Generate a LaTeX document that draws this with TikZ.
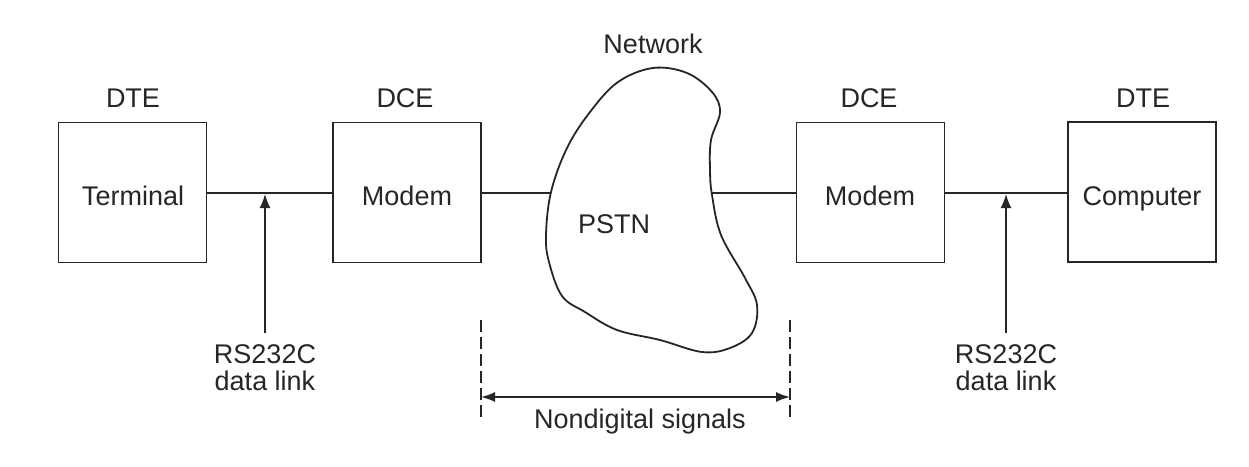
\documentclass[tikz,border=0pt]{standalone}
\usepackage{fontspec}
\setmainfont{Liberation Sans}
\usetikzlibrary{arrows.meta}
\begin{document}
\begin{tikzpicture}[x=1pt,y=-1pt,
  lbl/.style={anchor=base,inner sep=0pt,font=\fontsize{27}{30}\selectfont,text=black!85},
  unit/.style={draw=black!85,line width=1.7pt,minimum width=148pt,minimum height=140pt,inner sep=0pt},
  wire/.style={draw=black!85,line width=1.7pt},
  uparrow/.style={wire,-{Latex[length=14pt,width=11pt]}},
  dbl/.style={wire,{Latex[length=14pt,width=10pt]}-{Latex[length=14pt,width=10pt]}},
  dashline/.style={draw=black!85,line width=1.5pt,dash pattern=on 12pt off 5pt}]
\useasboundingbox[fill=white] (0,0) rectangle (1249,466);
% boxes
\node[unit] (term) at (132.5,192.5) {};
\node[unit] (mod1) at (407,192.5) {};
\node[unit] (mod2) at (870.5,192.5) {};
\node[unit] (comp) at (1142,192) {};
\node[lbl] (tterm) at (133,205) {Terminal};
\node[lbl] (tmod1) at (407,205) {Modem};
\node[lbl] (tmod2) at (870,205) {Modem};
\node[lbl] (tcomp) at (1142,205) {Computer};
\node[lbl] (dte1) at (133,107) {DTE};
\node[lbl] (dce1) at (405,107) {DCE};
\node[lbl] (dce2) at (869,107) {DCE};
\node[lbl] (dte2) at (1143,107) {DTE};
\node[lbl] (netw) at (653,53) {Network};
\node[lbl] (pstn) at (614,233) {PSTN};
% cloud
\draw[wire,line width=1.8pt] plot[smooth cycle,tension=0.6] coordinates {
 (653,68) (687,73) (712,92) (720,112) (711,140) (710,170) (712,195)
 (721,235) (745,278) (757,305) (752,333) (730,348) (702,352)
 (660,340) (617,330) (585,312) (562,296) (549,262) (546,235)
 (551,192) (567,148) (590,112) (618,82)};
\coordinate (cl) at (550.5,193);
\coordinate (cr) at (712,193);
% wires
\draw[wire] (term.east |- 0,193) -- (mod1.west |- 0,193);
\draw[wire] (mod1.east |- 0,193) -- (cl);
\draw[wire] (cr) -- (mod2.west |- 0,193);
\draw[wire] (mod2.east |- 0,193) -- (comp.west |- 0,193);
% RS232C labels and arrows
\node[lbl] (rs1) at (265,363) {RS232C};
\node[lbl] (dl1) at (265,390) {data link};
\node[lbl] (rs2) at (1006,363) {RS232C};
\node[lbl] (dl2) at (1006,390) {data link};
\coordinate (a1) at (265,194);
\coordinate (a2) at (1006,194);
\draw[uparrow] (265,333) -- (a1);
\draw[uparrow] (1006,333) -- (a2);
% nondigital signals
\coordinate (dl) at (481,320);
\coordinate (dlb) at (481,417);
\coordinate (dr) at (790,320);
\coordinate (drb) at (790,417);
\draw[dashline] (dl) -- (dlb);
\draw[dashline] (dr) -- (drb);
\draw[dbl] (481,397) -- (790,397);
\node[lbl] (nds) at (640,428) {Nondigital signals};
\end{tikzpicture}
\end{document}
